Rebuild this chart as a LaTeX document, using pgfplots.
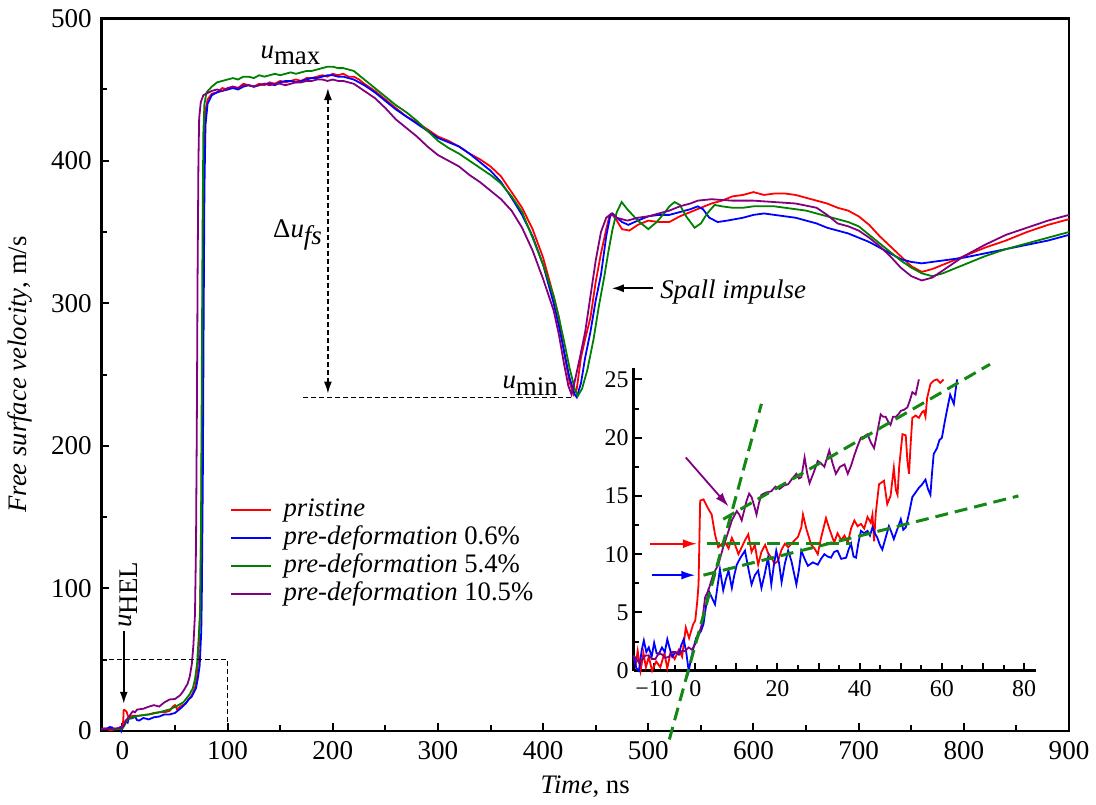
\documentclass[border=0pt]{standalone}
\usepackage{fontspec}
\setmainfont{Liberation Serif}
\usepackage{pgfplots}
\pgfplotsset{compat=1.18}
\usetikzlibrary{arrows.meta}
\definecolor{cred}{RGB}{255,0,0}
\definecolor{cblue}{RGB}{0,0,255}
\definecolor{cgreen}{RGB}{0,128,0}
\definecolor{cpurple}{RGB}{128,0,128}
\definecolor{dgreen}{RGB}{20,135,20}
\begin{document}
\begin{tikzpicture}[font=\fontsize{13.4}{15}\selectfont]
\begin{axis}[name=main, scale only axis, width=485.5pt, height=357.5pt,
  xmin=-20, xmax=900, ymin=0, ymax=500,
  xtick={0,100,...,900}, ytick={0,100,...,500},
  minor xtick={50,150,...,850}, minor ytick={50,150,...,450},
  tick align=inside, xtick pos=bottom, ytick pos=left,
  major tick length=4pt, minor tick length=2.8pt,
  every tick/.style={black, line width=1pt},
  axis line style={line width=1.3pt},
  /pgf/number format/assume math mode=true,
  /pgf/number format/set thousands separator={},
  ticklabel style={font=\fontsize{13.6}{15}\selectfont},
  xticklabel shift=1.8pt, yticklabel shift=1.3pt,
  xlabel={\textit{Time}, ns}, ylabel={\textit{Free surface velocity}, m/s},
  label style={font=\fontsize{13.2}{15}\selectfont},
  every axis y label/.style={at={(axis description cs:-0.084,0.5)}, rotate=90, anchor=center},
  every axis x label/.style={at={(axis description cs:0.5,0)}, anchor=north, yshift=-19pt},
  clip=false,
  every axis plot/.append style={line width=0.9pt},
  legend style={draw=none, fill=none, at={(0.133,0.330)}, anchor=north west, inner sep=0pt,
    row sep=0pt, font=\fontsize{13.4}{15}\selectfont,
    nodes={inner sep=0.75pt, text height=9.5pt, text depth=3pt, anchor=west},
    /tikz/every odd column/.append style={column sep=5pt}},
  legend cell align=left,
  legend image code/.code={\draw[#1, line width=0.9pt] (0pt,0pt) -- (20pt,0pt);},
]
\coordinate (insetSW) at (rel axis cs:0.550,0.0843);
% pristine
\addplot[cred] coordinates {
(-20,1) (-17,1.8) (-15,1.5) (-12,0.4) (-10,0.5) (-7,1.6) (-5,1) (-2,2.5) (-1,1.5) (0,4) (0.8,7) (1.2,14.5) (2,14.7) (4,13.4) (5,11) (6,9.5) (8,10) (10,10.5) (15,10.5) (20,11) (25,11.5) (30,12.5) (35,13) (40,13) (45,14) (48,17) (50,18) (52,15) (55,17) (60,19) (63,22) (66,25) (69,30) (71,38) (72.5,55) (74,90) (75,150) (76,250) (77,350) (77.8,410) (79,435) (81,443) (85,447) (90,448) (95,451) (100,450) (105,452) (110,451) (115,454) (120,453) (125,452) (130,454) (135,453) (140,455) (145,454) (150,456) (155,455) (160,456) (165,457) (170,456) (175,458) (180,458) (185,459) (190,460) (195,459) (200,461) (205,460) (210,461) (215,459) (220,459) (225,457) (230,454) (240,449) (250,443) (260,437) (270,431) (280,427) (290,422) (300,417) (310,414) (320,410) (330,405) (340,401) (350,396) (360,389) (370,378) (380,367) (390,352) (400,332) (410,305) (415,290) (420,265) (425,245) (429,236) (432,240) (436,262) (440,275) (445,290) (450,315) (455,335) (460,352) (463,361) (466,362) (470,358) (475,352) (482,351) (490,355) (500,358) (510,357) (520,357) (530,361) (540,364) (550,367) (560,370) (570,372) (580,375) (590,376) (600,378) (610,376) (620,377) (630,377) (640,376) (650,374) (660,372) (670,370) (680,367) (690,365) (700,361) (710,355) (720,347) (730,340) (740,333) (750,326) (760,322) (770,324) (780,327) (790,330) (800,333) (820,339) (840,344) (860,350) (880,355) (900,359)
};
\addlegendentry{\textit{pristine}}
% 0.6%
\addplot[cblue] coordinates {
(-20,2) (-17,1) (-15,1.5) (-12,2.6) (-10,2.5) (-8,1) (-5,1.5) (-2,2.5) (-1,0) (0,2) (2,4) (3,6.9) (5,5.7) (6,8.7) (8,8.6) (10,9) (12,10) (14,7.5) (16,7.2) (20,9) (25,8) (30,9.5) (35,10) (40,11.5) (45,11.5) (50,12.5) (55,15.5) (60,19) (63,22) (66,24) (70,30) (72,38) (73.5,46) (75,70) (75.5,93) (76.5,180) (77.2,280) (78,380) (79,425) (81,440) (85,446) (90,448) (95,449) (100,450) (105,451) (110,450) (115,452) (120,453) (125,452) (130,453) (135,454) (140,454) (145,453) (150,455) (155,456) (160,456) (165,455) (170,456) (175,457) (180,458) (185,458) (190,459) (195,460) (200,460) (205,459) (210,459) (215,458) (220,457) (230,453) (240,448) (250,442) (260,436) (270,431) (280,426) (290,421) (300,416) (310,413) (320,410) (330,405) (340,399) (350,393) (360,385) (370,374) (380,362) (390,347) (400,327) (410,300) (415,284) (420,266) (425,248) (430,236) (432,234) (436,244) (440,262) (445,280) (450,302) (455,320) (460,347) (464,362) (466,363) (470,360) (475,357) (481,355) (490,358) (500,361) (510,362) (520,362) (530,364) (540,366) (547,368) (552,366) (558,360) (566,357) (575,358) (590,360) (600,362) (610,363) (620,362) (630,361) (640,360) (650,358) (660,356) (670,353) (680,351) (690,349) (700,346) (710,343) (720,339) (730,335) (740,331) (750,329) (760,328) (770,329) (780,330) (800,332) (820,335) (840,338) (860,341) (880,344) (900,348)
};
\addlegendentry{\textit{pre-deformation} 0.6\%}
% 5.4%
\addplot[cgreen] coordinates {
(-20,1) (-15,1.5) (-10,1) (-5,1.2) (0,1.5) (2,4) (5,8) (10,9.5) (15,10.5) (20,11) (26.5,11.6) (35,13) (45,15) (52,17.5) (58,20) (64,25.6) (67,30) (69,36) (71,47) (72.5,65) (73.9,82) (74.8,150) (75.5,250) (76.2,350) (77,420) (78,440) (80,448) (85,452) (90,455) (95,456) (100,457) (105,458) (110,457) (115,459) (120,459) (125,458) (130,460) (135,459) (140,460) (145,461) (150,460) (155,461) (160,462) (165,461) (170,462) (175,463) (180,463) (185,464) (190,465) (195,466) (200,466) (205,465) (210,465) (215,464) (220,463) (225,460) (230,457) (240,451) (250,445) (260,439) (270,434) (280,428) (290,421) (300,414) (310,409) (320,405) (330,400) (340,395) (350,390) (360,384) (370,375) (380,364) (390,346) (400,327) (410,305) (415,290) (420,273) (425,255) (430,240) (433,235) (437,240) (442,253) (448,275) (453,298) (458,318) (462,336) (466,352) (470,364) (474.7,371) (480,366) (490,358) (500,352) (508,357) (515,363) (520,368) (525,371) (530,369) (536,361) (544,353) (550,356) (556,363) (563,369) (570,368) (580,367) (590,367) (600,368) (610,368) (620,368) (630,367) (640,366) (650,365) (660,363) (670,361) (680,359) (690,357) (700,354) (710,348) (720,342) (730,336) (740,330) (750,325) (760,321) (770,319) (780,321) (790,324) (800,327) (820,333) (840,338) (860,342) (880,346) (900,350)
};
\addlegendentry{\textit{pre-deformation} 5.4\%}
% 10.5%
\addplot[cpurple] coordinates {
(-20,1) (-15,1.2) (-10,1.5) (-5,1.7) (0,2.3) (2,5) (3,6.9) (5,8.7) (7,10.6) (9,12.9) (10.1,13.7) (12,13) (14,14.9) (16,15.1) (20,15.5) (25,16.9) (30,18) (35,17) (40,20) (45,22) (50,22.3) (55,25) (58,28) (62,33) (64,38) (66,46.6) (67.5,60) (69,81.5) (70,130) (70.8,220) (71.5,320) (72.3,400) (73,430) (74.5,441) (77,446) (85,449) (90,450) (95,449) (100,451) (105,452) (110,451) (115,453) (120,453) (125,452) (130,453) (135,454) (140,453) (145,454) (150,454) (155,453) (160,454) (165,455) (170,455) (175,456) (180,456) (185,457) (190,457) (195,456) (200,457) (205,456) (210,456) (215,455) (220,454) (230,449) (240,444) (250,437) (260,429) (270,423) (280,417) (290,410) (300,404) (310,400) (320,396) (330,390) (340,385) (350,379) (360,373) (370,365) (380,353) (390,337) (400,317) (410,295) (415,278) (420,257) (424,242) (427,236) (430,245) (435,262) (440,280) (445,305) (450,330) (455,350) (460,360) (465,363) (470,360) (480,358) (490,360) (500,361) (510,363) (520,365) (530,368) (540,370) (547,372) (560,373) (580,372) (600,372) (620,371) (640,370) (660,367) (670,362) (680,356) (690,354) (700,351) (710,346) (720,340) (730,333) (740,325) (750,319) (760,316) (770,318) (780,323) (790,328) (800,333) (820,341) (840,348) (860,353) (880,358) (900,362)
};
\addlegendentry{\textit{pre-deformation} 10.5\%}
% annotations
\draw[line width=0.8pt, dash pattern=on 2.5pt off 1.5pt] (axis cs:-20,50) -- (axis cs:100,50) -- (axis cs:100,0);
\draw[line width=0.8pt, dash pattern=on 2.5pt off 1.5pt] (axis cs:171.7,233.8) -- (axis cs:427,233.8);
\draw[line width=0.8pt, dash pattern=on 2.5pt off 1.5pt, {Latex[length=6pt,width=4pt]}-{Latex[length=6pt,width=4pt]}] (axis cs:195.4,451) -- (axis cs:195.4,236.6);
\node[anchor=base west, inner sep=0pt] at (axis cs:131,472) {\fontsize{13.5}{15}\selectfont\textit{u}\raisebox{-0.25em}{max}};
\node[anchor=base west, inner sep=0pt] at (axis cs:143,346) {\fontsize{13.5}{15}\selectfont Δ\textit{u}\raisebox{-0.25em}{\textit{fs}}};
\node[anchor=base west, inner sep=0pt] at (axis cs:361,240) {\fontsize{13.5}{15}\selectfont\textit{u}\raisebox{-0.25em}{min}};
\draw[line width=0.8pt, -{Latex[length=6pt,width=4pt]}] (axis cs:504.7,310.5) -- (axis cs:465.3,310.5);
\node[anchor=base west, inner sep=0pt] at (axis cs:511,303) {\fontsize{13.5}{15}\selectfont\textit{Spall impulse}};
\draw[line width=0.8pt, -{Latex[length=6pt,width=4pt]}] (axis cs:1.3,70) -- (axis cs:1.3,19);
\node[anchor=base west, inner sep=0pt, rotate=90] at (axis cs:8.2,72) {\fontsize{13.5}{15}\selectfont\textit{u}\raisebox{-0.25em}{HEL}};
\end{axis}

\begin{axis}[at={(insetSW)}, anchor=south west, scale only axis, width=202.15pt, height=152pt,
  xmin=-15, xmax=83, ymin=0, ymax=26,
  axis lines=left, axis line style={-, line width=1.3pt},
  xtick={-10,0,...,80}, xticklabels={−10,0,,20,,40,,60,,80},
  minor xtick={-15,-5,...,75},
  ytick={0,5,...,25}, minor ytick={2.5,7.5,...,22.5},
  tick align=inside, major tick length=4pt, minor tick length=2.8pt,
  every tick/.style={black, line width=1pt},
  /pgf/number format/assume math mode=true,
  ticklabel style={font=\fontsize{12}{13}\selectfont},
  xticklabel shift=1.5pt, yticklabel shift=-1pt,
  clip=false,
  every axis plot/.append style={line width=0.9pt},
]
\addplot[cred] coordinates {
(-15,1.2) (-14.5,0.5) (-14,1.7) (-13.3,0) (-12.6,1.5) (-12,0.3) (-11.3,1.2) (-10.5,0) (-9.5,0.8) (-8.5,0.3) (-7.5,1.5) (-6.8,0.2) (-6,1.6) (-5,1.0) (-4,1.8) (-3.2,1.2) (-2.3,3.7) (-1.5,2.8) (-0.5,4.0) (0,4.3) (0.5,6) (0.8,7.4) (1.0,11) (1.2,14.6) (2,14.7) (3,14) (4,13.4) (4.8,11.7) (5.6,10.6) (6.5,10.9) (7.3,11) (8.1,10.5) (8.9,11.4) (9.7,10.8) (10.5,10) (11.3,10.6) (12.1,11.2) (12.9,11.7) (13.7,10.2) (14.5,10.8) (15.3,9.1) (16.1,10.2) (17,10.8) (17.7,10.1) (18.5,9.7) (19.3,9.2) (20.1,9.4) (21,10.4) (21.8,10.9) (22.6,10.6) (23.4,10.9) (24.2,11.2) (25,11.5) (25.8,12.3) (26.2,13.4) (27,12.2) (28.2,10.8) (29,10.5) (29.8,10) (30.6,11.4) (31.8,13.1) (32.6,12.2) (33.8,11) (34.6,11.8) (35.5,11.2) (36.3,11.6) (37.1,11.0) (37.9,12.2) (38.7,12.9) (39.5,12.4) (40.3,12.6) (41.1,12.2) (41.9,13.2) (42.7,12.7) (43.1,13.4) (43.5,11.1) (43.9,13.5) (44.7,16) (45.9,16.3) (46.7,14.3) (47.5,15) (48.3,17.4) (48.8,15.5) (49.2,15.1) (49.6,17.5) (50.4,20.3) (51.2,20.2) (51.6,18) (52,16.9) (52.4,19.5) (52.8,21.7) (53.6,21.9) (54.4,21.7) (55.2,22.2) (55.6,22.3) (56,21.8) (56.4,23.4) (57.2,24.6) (58,24.9) (58.8,25) (59.6,24.7) (60.4,25)
};
\addplot[cblue] coordinates {
(-15,1.3) (-14.3,0.2) (-13.7,0) (-13,1.8) (-12.5,2.6) (-11.9,1.6) (-11.3,2.0) (-10.6,1.2) (-10,2.4) (-9.4,1.5) (-8.9,1.4) (-8.1,2.0) (-7.4,1.6) (-6.8,2.7) (-6.2,1.9) (-5.6,1.2) (-4.8,1.6) (-4,1.4) (-3.4,2.2) (-2.8,2.7) (-2.2,1.6) (-1.6,0) (-0.9,1.2) (-0.4,2) (0.2,2.8) (0.8,3.1) (1.4,3.4) (2,4) (2.6,5.5) (3.2,6.9) (4,6.3) (4.8,5.7) (5.4,7.2) (6,8.7) (6.8,6.9) (7.4,7.8) (8.1,8.6) (8.9,7.1) (9.5,8.2) (10.1,9.1) (11,9.7) (12.1,10.3) (12.9,8.8) (13.7,7.4) (14.5,8.2) (15.3,8.6) (16.1,7.1) (16.9,8.3) (17.7,9.7) (18.5,7.4) (19.1,9) (19.7,10.3) (20.4,9.2) (21,7.6) (21.8,9.2) (22.6,10.3) (23.4,9.4) (24.6,7.4) (25.2,8.6) (25.8,10.3) (26.6,9.6) (27.4,9) (28.6,9.3) (29.8,9.1) (30.6,9.6) (31.4,10) (32.2,9.8) (33,9.7) (33.8,10.2) (34.6,10.3) (35.5,9.6) (36.7,9.7) (37.3,10.4) (37.9,10.9) (38.5,9.8) (39.1,9.7) (39.7,11) (40.3,12) (41.1,11.8) (41.9,12) (42.5,11.6) (43.1,12.3) (43.7,11.8) (44.3,11.4) (44.9,10.8) (45.5,10.4) (46.3,11.4) (47.1,12.4) (47.7,11.9) (48.3,11.3) (49.2,12.2) (50,13) (50.6,12.1) (51.2,12.3) (52,13.5) (52.8,14.9) (53.6,15.3) (54.4,15.7) (55.2,16) (56,16.4) (56.6,15.6) (57.2,15.1) (57.6,17) (58,18.6) (58.8,19.1) (59.4,19.8) (60,20) (60.6,21.2) (61.2,22.3) (62,23.7) (62.9,22.9) (63.3,24) (63.7,25)
};
\addplot[cpurple] coordinates {
(-15,1.3) (-14.5,1.1) (-13.7,0.7) (-12.9,1.0) (-12.1,1.3) (-11.3,1.3) (-10.5,1.0) (-9.7,1.0) (-8.9,1.5) (-8.1,1.4) (-7.3,1.1) (-6.4,1.2) (-5.6,1.6) (-4.8,1.6) (-4,1.4) (-3.2,1.7) (-2.4,1.7) (-1.6,2) (-0.8,1.8) (0,2.3) (0.8,3) (1.6,4) (2.4,6.3) (3.2,6.9) (4.4,8.3) (5.6,9.1) (6.8,10.6) (8.1,12) (8.9,12.9) (10.1,13.7) (10.7,13.4) (11.3,12.9) (12.5,14.6) (13.1,15.2) (13.7,14.9) (14.3,14.2) (14.9,13.4) (15.5,14.4) (16.1,15.1) (17.3,15.3) (18.5,15.4) (19.5,15.8) (20.5,15.6) (21.6,15.9) (22.6,16) (23.6,16.5) (24.6,16.9) (25.2,16.5) (25.8,16.6) (26.6,18.3) (27.2,17) (27.8,16.1) (28.8,17) (29.8,18) (30.6,17.8) (31.4,17.5) (32.6,18.9) (33.4,17.8) (34.2,16.9) (35.2,17.5) (36.3,17.7) (37.1,16.9) (37.9,17.6) (38.7,18.5) (39.5,19.3) (40.3,20) (41.1,20.1) (41.9,20.3) (42.7,19.6) (43.5,19.1) (44.3,20.5) (45.1,22) (45.7,21.8) (46.3,21.8) (46.9,21.4) (47.5,21.1) (48.1,21.8) (48.8,21.8) (49.4,22) (50,22.3) (50.8,22.4) (51.6,22.6) (52.2,23.2) (52.8,23.9) (53.6,23.7) (54.4,25)
};
\draw[cred, line width=0.9pt, -{Latex[length=7pt,width=4.5pt]}] (axis cs:-10.9,10.9) -- (axis cs:0.4,10.9);
\draw[cblue, line width=0.9pt, -{Latex[length=7pt,width=4.5pt]}] (axis cs:-10.5,8.2) -- (axis cs:0,8.2);
\draw[cpurple, line width=0.9pt, -{Latex[length=7pt,width=4.5pt]}] (axis cs:-2.3,18.3) -- (axis cs:8.1,14.1);
\draw[dgreen, line width=1.5pt, dash pattern=on 6.5pt off 3.5pt] (axis cs:-6.3,-5.9) -- (axis cs:16.1,22.9);
\draw[dgreen, line width=1.5pt, dash pattern=on 6.5pt off 3.5pt] (axis cs:6.8,13) -- (axis cs:71.7,26.3);
\draw[dgreen, line width=1.5pt, dash pattern=on 6.5pt off 3.5pt] (axis cs:2.8,10.9) -- (axis cs:37.9,10.9);
\draw[dgreen, line width=1.5pt, dash pattern=on 6.5pt off 3.5pt] (axis cs:2,8.2) -- (axis cs:78.6,15);
\end{axis}
\path ([xshift=-50.85pt,yshift=-36.85pt]main.south west) rectangle ([xshift=11.65pt,yshift=9.15pt]main.north east);
\end{tikzpicture}
\end{document}
